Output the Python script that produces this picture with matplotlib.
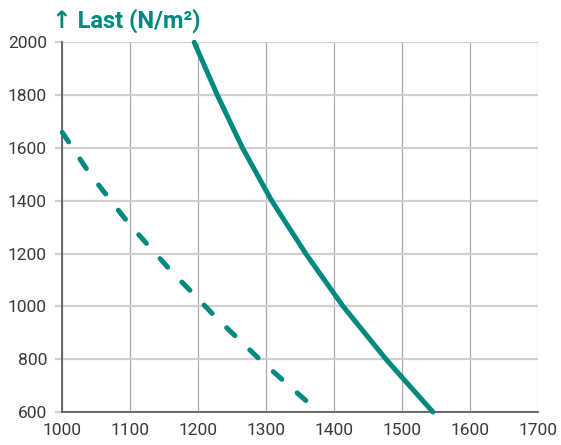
import matplotlib
matplotlib.use("Agg")
import matplotlib.pyplot as plt

# values
solid_x = [1194, 1228, 1265, 1300, 1308, 1358, 1400, 1413, 1476, 1500, 1545]
solid_y = [2000, 1800, 1600, 1437, 1400, 1200, 1047, 1000, 800, 730, 600]

dash_x = [1000, 1040, 1098, 1161, 1193, 1226, 1294, 1364]
dash_y = [1659, 1504, 1313, 1131, 1047, 958, 790, 630]

x_ticks = [1000, 1100, 1200, 1300, 1400, 1500, 1600, 1700]
y_ticks = [600, 800, 1000, 1200, 1400, 1600, 1800, 2000]

title = "↑ Last (N/m²)"

teal = "#00897f"
plt.rcParams["font.family"] = ["Roboto", "DejaVu Sans"]

fig = plt.figure(figsize=(5.61, 4.45), dpi=100)
ax = fig.add_axes([0.111, 0.0742, 0.8485, 0.8308])

ax.set_xlim(1000, 1700)
ax.set_ylim(600, 2000)
ax.set_xticks(x_ticks)
ax.set_yticks(y_ticks)

# grid: light thick horizontals, darker thin verticals
ax.grid(axis="y", color="#d0d0d0", linewidth=1.6, zorder=0)
ax.grid(axis="x", color="#aaaaaa", linewidth=0.9, zorder=0)

for s in ["top", "right"]:
    ax.spines[s].set_visible(False)
for s in ["left", "bottom"]:
    ax.spines[s].set_color("#555555")
    ax.spines[s].set_linewidth(1.2)
    ax.spines[s].set_zorder(3)

ax.tick_params(axis="y", length=5, width=1.6, color="#d0d0d0", pad=6,
               labelsize=12.5, labelcolor="#3a3a3a")
ax.tick_params(axis="x", length=0, pad=8, labelsize=12.5, labelcolor="#3a3a3a")

ax.plot(solid_x, solid_y, color=teal, linewidth=3.6, solid_capstyle="round",
        solid_joinstyle="round", clip_on=False, zorder=4)
ax.plot(dash_x, dash_y, color=teal, linewidth=3.6, dash_capstyle="round",
        dash_joinstyle="round", linestyle=(0, (2.3, 4.1)), clip_on=False, zorder=4)

fig.text(52 / 561, 1 - 21 / 445, title, color=teal, fontsize=17,
         fontweight="bold", ha="left", va="center")

fig.savefig("out.png", dpi=100)
